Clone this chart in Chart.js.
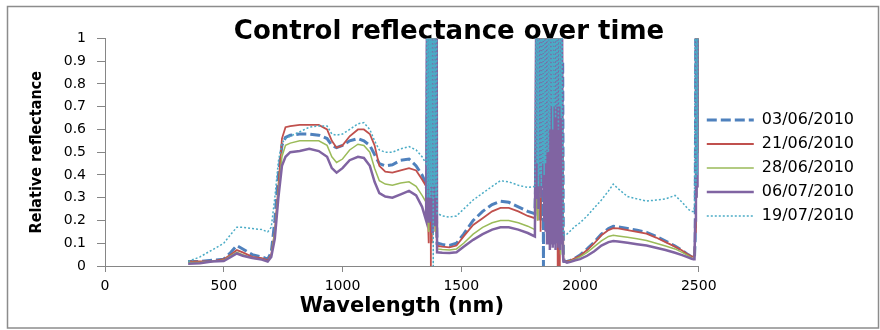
<!DOCTYPE html>
<html>
<head>
<meta charset="utf-8">
<title>Control reflectance over time</title>
<script src="https://cdn.jsdelivr.net/npm/chart.js@4.4.1/dist/chart.umd.min.js"></script>
<style>
  body { margin: 0; background: #fff; }
  .wrap { position: relative; width: 880px; height: 330px; }
</style>
</head>
<body>
<div class="wrap"><canvas id="spectra"></canvas></div>
<script>
// wavelength grid (nm); denser through the water absorption bands
const wavelengths = [
  350, 400, 450, 500, 530, 555, 580, 620, 660, 685, 700, 715, 730, 745, 760, 780, 820, 860,
  900, 935, 955, 975, 1000, 1030, 1065, 1090, 1115, 1135, 1155, 1180, 1210, 1245, 1280, 1310, 1335, 1352,
  1356, 1358, 1360, 1362, 1364, 1366, 1368, 1370, 1372, 1374, 1376,
  1378, 1380, 1382, 1384, 1386, 1388, 1390, 1392, 1394, 1396, 1398,
  1402, 1420, 1450, 1480, 1510, 1550, 1590, 1630, 1665, 1700, 1740, 1780, 1810,
  1816, 1819, 1822, 1825, 1828, 1831, 1834, 1837, 1840, 1843, 1846, 1849, 1852,
  1855, 1858, 1861, 1864, 1867, 1870, 1873, 1876, 1879, 1882, 1885, 1888, 1891,
  1894, 1897, 1900, 1903, 1906, 1909, 1912, 1915, 1918, 1921, 1924, 1927, 1930,
  1934, 1945, 1960, 1980, 2000, 2030, 2060, 2090, 2120, 2140, 2160, 2200, 2240, 2280, 2320, 2360, 2400, 2430, 2455, 2470, 2478,
  2482, 2485, 2488, 2491, 2494, 2497, 2500
];

const seriesNames = ['03/06/2010', '21/06/2010', '28/06/2010', '06/07/2010', '19/07/2010'];

const refl_0306 = [
  .02, .02, .025, .03, .06, .09, .075, .05, .04, .03, .06, .2, .4, .53, .565, .575, .58, .58,
  .575, .56, .53, .52, .53, .55, .56, .55, .53, .49, .45, .44, .445, .465, .47, .44, .40, .36,
  .3, 1.3, .25, 1.4, .2, 1.5, .3, 1.3, .15, 1.4, .2,
  1.3, .25, 1.2, .3, 1.4, .2, 1.3, .25, 1.5, .2, .1,
  .10, .095, .09, .10, .14, .20, .24, .27, .285, .28, .26, .24, .23,
  .5, 1.3, .4, 1.5, .6, 1.4, .2, 1.3, .5, 1.2, 0, 1.4, .7,
  1.5, .8, 1.4, .7, 1.5, .8, 1.3, .7, 1.5, .8, 1.4, .7, 1.3,
  .6, 1.5, .5, 1.2, .7, 1.4, .6, 1.3, .5, 1.2, .3, .9, .04,
  .02, .02, .025, .035, .048, .075, .105, .14, .165, .175, .172, .165, .157, .148, .13, .11, .088, .068, .05, .04, .035,
  .04, .12, 1.3, .5, 1.4, .6, 1.2
];

const refl_2106 = [
  .02, .02, .02, .03, .05, .07, .06, .04, .035, .025, .05, .15, .35, .56, .61, .615, .62, .62,
  .62, .60, .55, .52, .53, .57, .60, .60, .58, .53, .44, .415, .41, .42, .43, .42, .38, .35,
  .3, 1.2, .2, 1.4, .1, 1.3, .2, 1.5, 0, 1.3, .1,
  1.4, .2, 1.2, .15, 1.3, .3, 1.4, .2, 1.2, .15, .09,
  .088, .085, .082, .09, .13, .18, .21, .24, .255, .255, .24, .22, .21,
  .33, 1.2, .2, 1.4, .45, 1.3, .15, 1.1, .5, 1.4, .6, 1.3, .7,
  1.5, .6, 1.2, .55, 1.4, .7, 1.3, .4, 1.2, .6, 1.4, .5, 1.3,
  .5, 1.2, .4, 1.3, 0, 1.1, 0, .9, .25, .8, .2, .5, .03,
  .02, .02, .025, .035, .045, .07, .1, .135, .158, .166, .165, .158, .15, .142, .125, .105, .085, .068, .05, .042, .04,
  .05, .15, 1.2, .4, 1.3, .7, 1.1
];

const refl_2806 = [
  .015, .015, .02, .025, .045, .06, .05, .035, .03, .02, .045, .15, .33, .48, .53, .54, .55, .55,
  .55, .53, .48, .455, .47, .51, .535, .53, .5, .43, .375, .36, .355, .365, .37, .35, .31, .28,
  .25, 1.1, .2, 1.3, .15, 1.2, .3, 1.4, .2, 1.3, .15,
  1.2, .2, 1.1, .25, 1.3, .2, 1.2, .15, 1.3, .2, .075,
  .075, .072, .07, .075, .1, .14, .17, .19, .2, .2, .19, .175, .16,
  .28, 1.1, .2, 1.3, .5, 1.2, .3, 1.4, .6, 1.3, .7, 1.2, .6,
  1.4, .7, 1.3, .6, 1.2, .5, 1.4, .6, 1.1, .5, 1.3, .6, 1.2,
  .4, 1.3, .5, 1.1, .3, 1.2, .2, 1.1, .05, .8, .2, .3, .03,
  .02, .018, .022, .03, .04, .06, .085, .11, .13, .135, .132, .126, .12, .112, .1, .088, .075, .06, .046, .036, .03,
  .04, .2, 1.1, .3, 1.3, .5, 1.2
];

const refl_0607 = [
  .01, .012, .02, .022, .04, .055, .045, .035, .028, .02, .04, .12, .3, .44, .48, .50, .505, .515,
  .505, .48, .43, .41, .43, .465, .48, .475, .44, .37, .32, .305, .30, .315, .33, .31, .26, .20,
  1.2, .2, 1.3, .19, 1.4, .22, 1.3, .2, 1.5, .2, 1.3,
  .15, 1.2, .2, 1.4, .18, 1.3, .2, 1.5, .22, 1.3, .06,
  .06, .058, .057, .06, .085, .115, .14, .16, .17, .17, .16, .145, .13,
  1.2, .3, 1.3, .25, 1.1, .5, 1.4, .3, 1.2, .35, 1.3, .2, 1.4,
  .15, 1.3, .1, 1.5, .2, 1.3, .07, 1.2, .1, 1.4, .08, 1.3, .1,
  1.5, .07, 1.2, .1, 1.4, .08, 1.3, .07, 1.2, .1, 1.3, .07, .02,
  .02, .015, .018, .025, .03, .045, .065, .09, .105, .11, .108, .102, .096, .09, .08, .07, .058, .048, .038, .032, .03,
  .03, .2, 1.2, .3, 1.4, .35, 1.3
];

const refl_1907 = [
  .02, .04, .07, .10, .14, .17, .17, .165, .16, .15, .17, .30, .46, .54, .56, .57, .59, .61,
  .615, .615, .58, .575, .58, .60, .625, .63, .60, .55, .51, .50, .50, .515, .525, .51, .48, .45,
  1.3, .3, 1.5, .35, 1.4, .3, 1.3, .3, 1.5, .35, 1.4,
  .3, 1.3, 0, 1.5, .35, 1.4, .3, 1.3, .3, 1.2, .23,
  .23, .22, .215, .22, .25, .29, .32, .35, .375, .37, .355, .345, .35,
  1.3, .45, 1.5, .35, 1.4, .4, 1.3, .35, 1.5, .45, 1.4, .4, 1.3,
  .45, 1.5, .5, 1.4, .5, 1.3, .6, 1.5, .7, 1.4, .6, 1.3, .7,
  1.5, .65, 1.4, .7, 1.3, .6, 1.5, .7, 1.4, .65, 1.2, .6, .14,
  .135, .14, .155, .175, .19, .22, .255, .29, .33, .36, .34, .305, .295, .285, .29, .295, .31, .28, .25, .24, .24,
  .26, 1.3, .35, 1.4, .4, 1.5, 1.2
];

const xTickLabels = ['0', '500', '1000', '1500', '2000', '2500'];
const yTickLabels = ['0', '0.1', '0.2', '0.3', '0.4', '0.5', '0.6', '0.7', '0.8', '0.9', '1'];

const seriesValues = [refl_0306, refl_2106, refl_2806, refl_0607, refl_1907];
const colours = ['#4F81BD', '#C0504D', '#9BBB59', '#8064A2', '#4BACC6'];
const widths = [3, 1.8, 1.5, 2.5, 1.5];
const dashes = [[10, 4], [], [], [], [2, 2]];

const toPoints = values => wavelengths.map((w, i) => ({ x: w, y: values[i] }));

const axisGrey = '#868686';

// grey border round the whole chart
const chartFrame = {
  id: 'chartFrame',
  beforeDraw(chart) {
    const ctx = chart.ctx;
    ctx.save();
    ctx.strokeStyle = '#8c8c8c';
    ctx.lineWidth = 1.5;
    ctx.strokeRect(7.5, 6.5, 871, 321.5);
    ctx.restore();
  }
};

Chart.defaults.font.family = 'DejaVu Sans';
Chart.defaults.color = '#000';

new Chart(document.getElementById('spectra'), {
  type: 'line',
  data: {
    datasets: seriesValues.map((vals, i) => ({
      label: seriesNames[i],
      data: toPoints(vals),
      borderColor: colours[i],
      backgroundColor: colours[i],
      borderWidth: widths[i],
      borderDash: dashes[i],
      pointRadius: 0,
      tension: 0,
      // later series sit on top
      order: seriesNames.length - 1 - i
    }))
  },
  options: {
    responsive: true,
    maintainAspectRatio: false,
    animation: false,
    layout: { padding: { top: 6, right: 16, bottom: 0, left: 34 } },
    plugins: {
      title: {
        display: true,
        text: 'Control reflectance over time',
        color: '#000',
        font: { size: 26, weight: 'bold', lineHeight: 0.44 },
        padding: { top: 21, bottom: 0 }
      },
      legend: {
        position: 'right',
        labels: {
          // zero-height box = a short line in the series' own dash pattern
          boxWidth: 47,
          boxHeight: 0,
          padding: 8,
          color: '#000',
          font: { size: 16 },
          sort: (a, b) => a.datasetIndex - b.datasetIndex
        }
      },
      tooltip: { enabled: false }
    },
    scales: {
      x: {
        type: 'linear',
        min: 0,
        max: 2500,
        afterFit: s => { s.height = 64; },
        ticks: {
          stepSize: 500,
          maxRotation: 0,
          autoSkip: false,
          padding: 6,
          font: { size: 14 },
          callback: (v, i) => xTickLabels[i]
        },
        grid: { drawOnChartArea: false, tickLength: 6, color: axisGrey },
        border: { color: axisGrey },
        title: {
          display: true,
          text: 'Wavelength (nm)',
          font: { size: 21, weight: 'bold' },
          padding: { top: 0, bottom: 11 }
        }
      },
      y: {
        min: 0,
        max: 1,
        afterFit: s => { s.width = 71; },
        ticks: {
          stepSize: 0.1,
          padding: 11,
          font: { size: 14 },
          callback: (v, i) => yTickLabels[i]
        },
        grid: { drawOnChartArea: false, tickLength: 8, color: axisGrey },
        border: { color: axisGrey },
        title: {
          display: true,
          text: 'Relative reflectance',
          font: { family: "'DejaVu Sans Condensed', 'DejaVu Sans'", size: 16, weight: 'bold' },
          padding: { top: -6.9, bottom: 0 }
        }
      }
    }
  },
  plugins: [chartFrame]
});
</script>
</body>
</html>
